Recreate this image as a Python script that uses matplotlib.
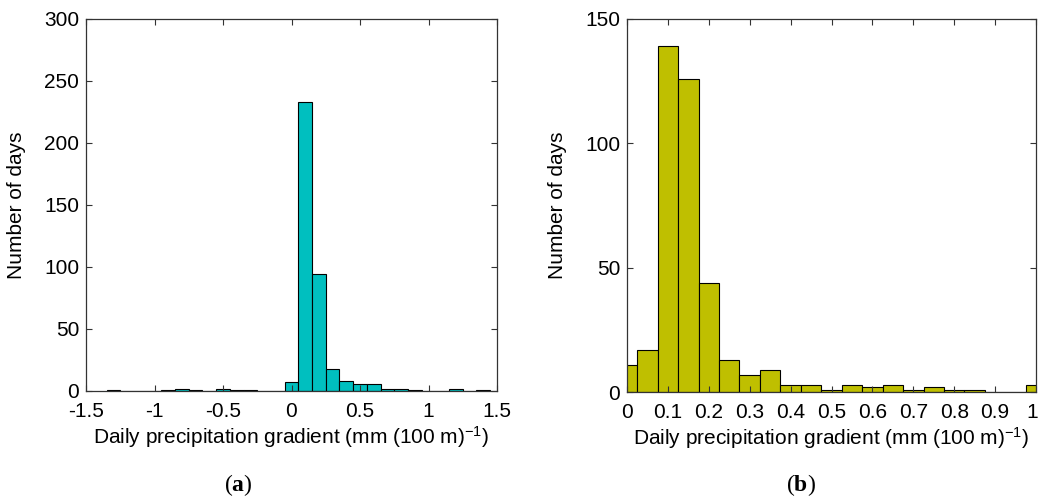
import numpy as np
import matplotlib
matplotlib.use("Agg")
import matplotlib.pyplot as plt
from matplotlib.transforms import ScaledTranslation

plt.rcParams["font.family"] = "Liberation Sans"
plt.rcParams["axes.unicode_minus"] = False
plt.rcParams["mathtext.fontset"] = "custom"
plt.rcParams["mathtext.rm"] = "Liberation Sans"
plt.rcParams["mathtext.it"] = "Liberation Sans"
plt.rcParams["mathtext.bf"] = "Liberation Serif:bold"

# Panel (a): bin centres (width 0.1) and counts
centers_a = [-1.3, -1.2, -1.1, -1.0, -0.9, -0.8, -0.7, -0.6, -0.5, -0.4, -0.3, -0.2, -0.1, 0.0,
             0.1, 0.2, 0.3, 0.4, 0.5, 0.6, 0.7, 0.8, 0.9, 1.0, 1.1, 1.2, 1.3, 1.4]
counts_a = [1, 0, 0, 0, 1, 2, 1, 0, 2, 1, 1, 0, 0, 7,
            233, 94, 18, 8, 6, 6, 2, 2, 1, 0, 0, 2, 0, 1]
width_a = 0.1
xticks_a = [-1.5, -1, -0.5, 0, 0.5, 1, 1.5]
xticklabels_a = ["-1.5", "-1", "-0.5", "0", "0.5", "1", "1.5"]
yticks_a = [0, 50, 100, 150, 200, 250, 300]

# Panel (b): bin centres (width 0.05) and counts
centers_b = [0.0, 0.05, 0.1, 0.15, 0.2, 0.25, 0.3, 0.35, 0.4, 0.45, 0.5,
             0.55, 0.6, 0.65, 0.7, 0.75, 0.8, 0.85, 0.9, 0.95, 1.0]
counts_b = [11, 17, 139, 126, 44, 13, 7, 9, 3, 3, 1,
            3, 2, 3, 1, 2, 1, 1, 0, 0, 3]
width_b = 0.05
xticks_b = [0, 0.1, 0.2, 0.3, 0.4, 0.5, 0.6, 0.7, 0.8, 0.9, 1]
xticklabels_b = ["0", "0.1", "0.2", "0.3", "0.4", "0.5", "0.6", "0.7", "0.8", "0.9", "1"]
yticks_b = [0, 50, 100, 150]

xlabel = "Daily precipitation gradient (mm (100 m)$^{-1}$)"

W, H = 1039, 499
fig = plt.figure(figsize=(W / 100, H / 100), dpi=100)


def style_axes(ax):
    for s in ax.spines.values():
        s.set_color("#333333")
        s.set_linewidth(0.9)
    ax.tick_params(direction="in", top=True, right=True, length=4, width=0.8,
                   labelsize=15, color="#333333")
    ax.tick_params(axis="x", pad=8)
    ax.tick_params(axis="y", pad=5)


ax1 = fig.add_axes([86 / W, (H - 391) / H, 411 / W, 372 / H])
ax1.bar(centers_a, counts_a, width=width_a, color="#00BFBF", edgecolor="black", linewidth=0.8)
ax1.set_xlim(-1.5, 1.5)
ax1.set_ylim(0, 300)
ax1.set_xticks(xticks_a)
ax1.set_xticklabels(xticklabels_a)
ax1.set_yticks(yticks_a)
ax1.set_xlabel(xlabel, fontsize=15, labelpad=2)
ax1.set_ylabel("Number of days", fontsize=15, labelpad=13)
style_axes(ax1)

ax2 = fig.add_axes([627 / W, (H - 392) / H, 409 / W, 373 / H])
ax2.bar(centers_b, counts_b, width=width_b, color="#BFBF00", edgecolor="black", linewidth=0.8)
ax2.set_xlim(0, 1)
ax2.set_ylim(0, 150)
ax2.set_xticks(xticks_b)
ax2.set_xticklabels(xticklabels_b)
ax2.set_yticks(yticks_b)
ax2.set_xlabel(xlabel, fontsize=15, labelpad=2)
ax2.set_ylabel("Number of days", fontsize=15, labelpad=13)
style_axes(ax2)

# keep the last tick label of (b) inside the figure, as in the reference
last = ax2.get_xticklabels()[-1]
last.set_transform(last.get_transform() + ScaledTranslation(-4 / 100, 0, fig.dpi_scale_trans))

fig.text(238 / W, 1 - 485 / H, r"($\mathbf{a}$)", family="Liberation Serif",
         fontsize=17, ha="center", va="center")
fig.text(801 / W, 1 - 485 / H, r"($\mathbf{b}$)", family="Liberation Serif",
         fontsize=17, ha="center", va="center")

fig.savefig("out.png", dpi=100)
